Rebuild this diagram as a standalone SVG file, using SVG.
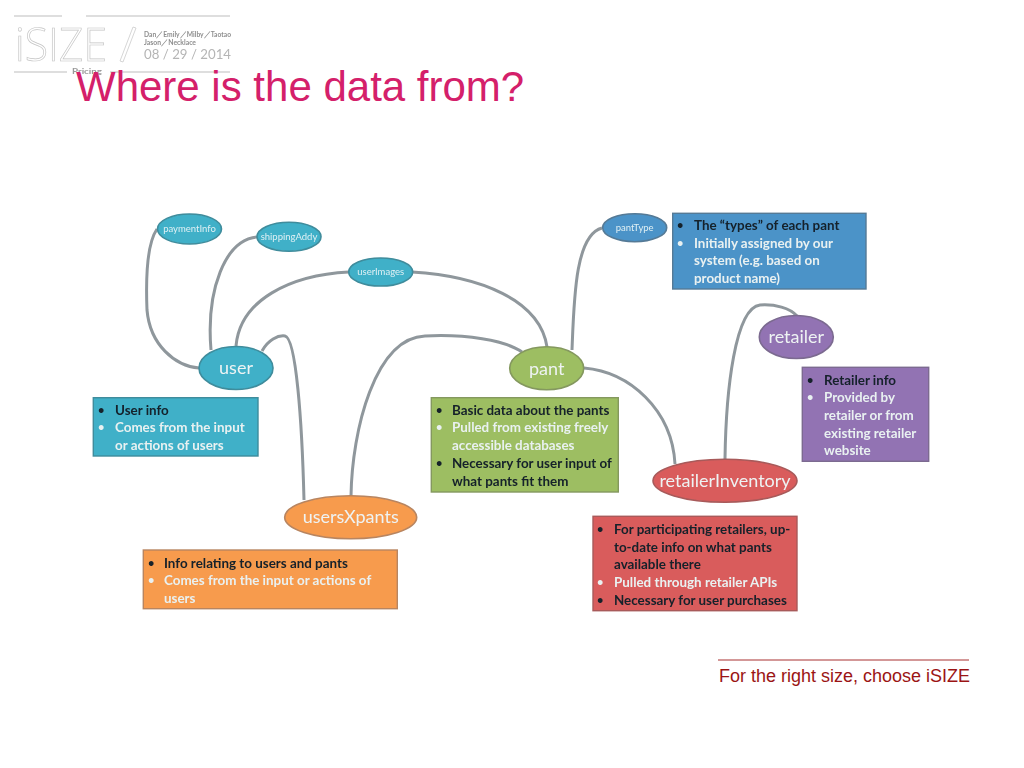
<svg xmlns="http://www.w3.org/2000/svg" width="1024" height="768" viewBox="0 0 1024 768">
<style>
text{font-family:"Lato","Open Sans",sans-serif}
.ln{fill:none;stroke:#8f979c;stroke-width:3}
.e{stroke-width:1.6}
.nl{fill:#eef3f3;text-anchor:middle;font-size:18px}
.ns{fill:#dff0f4;text-anchor:middle;font-size:9.5px}
.b{stroke-width:1.4}
.d{fill:#14202a;font-size:13.4px;font-weight:700}
.w{fill:#e9f1f1;font-size:13.4px;font-weight:700}
.u{font-size:11px}
.teal{fill:#3fb0c8;stroke:#3f8c9c}
.blue{fill:#4c93c8;stroke:#557a96}
.purple{fill:#9273b3;stroke:#7b6a90}
.green{fill:#9dbe62;stroke:#84985e}
.orange{fill:#f79b4e;stroke:#b88560}
.red{fill:#d95c5c;stroke:#a85a5a}
.logo{fill:none;stroke:#c4c4c4;stroke-width:.7}
.gl{stroke:#bdbdbd;stroke-width:1;fill:none}
</style>
<defs><filter id="soft" x="-5%" y="-5%" width="110%" height="110%"><feGaussianBlur stdDeviation="0.5"/></filter></defs>
<rect width="1024" height="768" fill="#fff"/>
<g id="logo" filter="url(#soft)">
<path class="gl" d="M14,16H62M86,16H230M14,72H67M110,72H230"/>
<text x="15" y="61" class="logo" style="font-family:'Open Sans',sans-serif;font-weight:300;font-size:46px" textLength="92" lengthAdjust="spacingAndGlyphs">iSIZE</text>
<path class="logo" d="M133,27L136,28L123,62L120,61Z"/>
<text x="144" y="36.500" fill="#8d8d8d" font-size="7.500" font-weight="700" textLength="87" lengthAdjust="spacingAndGlyphs">Dan／Emily／Milby／Taotao</text>
<text x="144" y="45" fill="#8d8d8d" font-size="7.500" font-weight="700" textLength="52" lengthAdjust="spacingAndGlyphs">Jason／Necklace</text>
<text x="144" y="59" fill="#b5b5b5" font-size="13" textLength="87" lengthAdjust="spacingAndGlyphs">08 / 29 / 2014</text>
<text x="72" y="74" fill="#9a9a9a" font-size="8" font-weight="700" textLength="30" lengthAdjust="spacingAndGlyphs">Pricing</text>
</g>
<text id="title" x="76" y="101" fill="#d4206a" font-size="42" style="font-family:'Liberation Sans',Arial,sans-serif">Where is the data from?</text>
<g filter="url(#soft)">
<g id="connectors">
<path class="ln" d="M157,229C146,245 146,285 147,310C150,345 175,366 199,368"/>
<path class="ln" d="M257,237C225,240 206,290 211,350"/>
<path class="ln" d="M349,272C290,275 240,300 236,346"/>
<path class="ln" d="M412,272C480,276 540,300 547,347"/>
<path class="ln" d="M262,351C268,340 278,335 285,336C296,338 302,420 304,500"/>
<path class="ln" d="M351,496C352,430 375,338 425,336C465,334 505,340 522,352"/>
<path class="ln" d="M572,350C574,300 575,235 602,228"/>
<path class="ln" d="M584,368C630,372 672,410 675,464"/>
<path class="ln" d="M725,459C726,390 735,308 760,305C775,304 790,308 797,316"/>
</g>
<g id="paymentInfo"><ellipse class="e teal" cx="189.500" cy="229" rx="32" ry="15"/><text class="ns" x="189.500" y="232">paymentInfo</text></g>
<g id="shippingAddy"><ellipse class="e teal" cx="289" cy="236.700" rx="32" ry="14.500"/><text class="ns" x="289" y="240">shippingAddy</text></g>
<g id="userImages"><ellipse class="e teal" cx="380.700" cy="272" rx="32" ry="14"/><text class="ns" x="380.700" y="275">userImages</text></g>
<g id="pantType"><ellipse class="e blue" cx="634.700" cy="227.700" rx="32" ry="14"/><text class="ns" x="634.700" y="231">pantType</text></g>
<g id="user"><ellipse class="e teal" cx="236" cy="368" rx="37" ry="21.500"/><text class="nl" x="236" y="374">user</text></g>
<g id="pant"><ellipse class="e green" cx="546.700" cy="368.300" rx="37" ry="21.500"/><text class="nl" x="546.700" y="375">pant</text></g>
<g id="retailer"><ellipse class="e purple" cx="796.300" cy="337" rx="37" ry="21.500"/><text class="nl" x="796.300" y="343">retailer</text></g>
<g id="usersXpants"><ellipse class="e orange" cx="350.700" cy="517.300" rx="66" ry="21.500"/><text class="nl" x="350.700" y="523">usersXpants</text></g>
<g id="retailerInventory"><ellipse class="e red" cx="725" cy="480.700" rx="72" ry="21.500"/><text class="nl" x="725" y="487">retailerInventory</text></g>
<g id="box-user"><rect class="b teal" x="93.300" y="397.700" width="164.700" height="58.300"/>
<text class="d u" x="98" y="414">•</text><text class="d" x="115" y="415">User info</text>
<text class="w u" x="98" y="431">•</text><text class="w" x="115" y="432">Comes from the input</text><text class="w" x="115" y="450">or actions of users</text></g>
<g id="box-pantType"><rect class="b blue" x="672.700" y="213.300" width="193.300" height="75.700"/>
<text class="d u" x="677" y="229">•</text><text class="d" x="694" y="230">The “types” of each pant</text>
<text class="w u" x="677" y="247">•</text><text class="w" x="694" y="248">Initially assigned by our</text><text class="w" x="694" y="265">system (e.g. based on</text><text class="w" x="694" y="283">product name)</text></g>
<g id="box-retailer"><rect class="b purple" x="802.300" y="367.300" width="126.400" height="94"/>
<text class="d u" x="807" y="384">•</text><text class="d" x="824" y="385">Retailer info</text>
<text class="w u" x="807" y="401">•</text><text class="w" x="824" y="402">Provided by</text><text class="w" x="824" y="420">retailer or from</text><text class="w" x="824" y="438">existing retailer</text><text class="w" x="824" y="455">website</text></g>
<g id="box-pant"><rect class="b green" x="431.300" y="397.700" width="187" height="94.300"/>
<text class="d u" x="436" y="414">•</text><text class="d" x="452" y="415">Basic data about the pants</text>
<text class="w u" x="436" y="431">•</text><text class="w" x="452" y="432">Pulled from existing freely</text><text class="w" x="452" y="450">accessible databases</text>
<text class="d u" x="436" y="467">•</text><text class="d" x="452" y="468">Necessary for user input of</text><text class="d" x="452" y="486">what pants fit them</text></g>
<g id="box-usersXpants"><rect class="b orange" x="143.300" y="550" width="254" height="58.700"/>
<text class="d u" x="148" y="567">•</text><text class="d" x="164" y="568">Info relating to users and pants</text>
<text class="w u" x="148" y="584">•</text><text class="w" x="164" y="585">Comes from the input or actions of</text><text class="w" x="164" y="603">users</text></g>
<g id="box-retailerInventory"><rect class="b red" x="593" y="516.300" width="204" height="94.400"/>
<text class="d u" x="597" y="533">•</text><text class="d" x="614" y="534">For participating retailers, up-</text><text class="d" x="614" y="552">to-date info on what pants</text><text class="d" x="614" y="569">available there</text>
<text class="w u" x="597" y="586">•</text><text class="w" x="614" y="587">Pulled through retailer APIs</text>
<text class="d u" x="597" y="604">•</text><text class="d" x="614" y="605">Necessary for user purchases</text></g>
</g>
<g id="footer"><path d="M718,660H969" stroke="#a83030" stroke-width="1"/><text x="719" y="682" fill="#9b1414" font-size="18" style="font-family:'Liberation Sans',Arial,sans-serif">For the right size, choose iSIZE</text></g>
</svg>
